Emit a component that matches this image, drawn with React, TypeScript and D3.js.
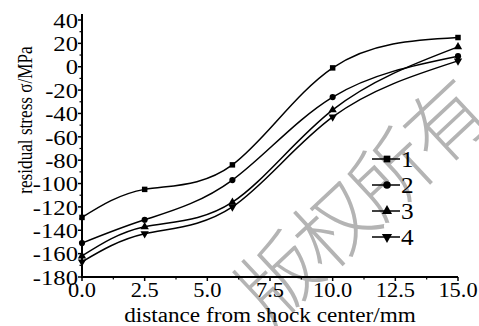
import { useEffect, useRef } from "react"
import * as d3 from "d3"

// distances (mm) where stress was measured
const distances = [0, 2.5, 6, 10, 15]

// residual stress (MPa) per sample
const series1 = [-129, -105, -84, -1, 25]
const series2 = [-151, -131, -97, -26, 9]
const series3 = [-162, -137, -116, -37, 17]
const series4 = [-167, -143, -120, -43, 5]

const seriesNames = ["1", "2", "3", "4"]
const xTicks = [0, 2.5, 5, 7.5, 10, 12.5, 15]
const yTicks = [40, 20, 0, -20, -40, -60, -80, -100, -120, -140, -160, -180]

export default function App() {
  const svgRef = useRef<SVGSVGElement | null>(null)

  useEffect(() => {
    if (!svgRef.current) return
    const svg = d3.select(svgRef.current)
    svg.selectAll("*").remove()

    const font = "'Liberation Serif', 'Times New Roman', serif"

    const x = d3.scaleLinear().domain([0, 15]).range([82, 458])
    const y = d3.scaleLinear().domain([-180, 40]).range([277, 20])

    // watermark behind everything
    svg
      .append("text")
      .attr("transform", "translate(362,202) rotate(-43)")
      .attr("text-anchor", "middle")
      .attr("dy", "0.35em")
      .attr("font-family", "'Noto Sans CJK SC', sans-serif")
      .attr("font-size", 80)
      .attr("font-weight", 300)
      .attr("letter-spacing", -4)
      .attr("fill", "#b4b4b4")
      .text("版权所有")

    // axes lines
    svg
      .append("line")
      .attr("x1", x(0))
      .attr("x2", x(0))
      .attr("y1", 14)
      .attr("y2", y(-180))
      .attr("stroke", "#000")
      .attr("stroke-width", 2)
    svg
      .append("line")
      .attr("x1", x(0) - 1)
      .attr("x2", x(15))
      .attr("y1", y(-180))
      .attr("y2", y(-180))
      .attr("stroke", "#000")
      .attr("stroke-width", 2)

    // y ticks (major + minor)
    yTicks.forEach((t) => {
      svg
        .append("line")
        .attr("x1", x(0) - 4)
        .attr("x2", x(0))
        .attr("y1", y(t))
        .attr("y2", y(t))
        .attr("stroke", "#000")
        .attr("stroke-width", 1.5)
      if (t > -180) {
        svg
          .append("line")
          .attr("x1", x(0) - 2.5)
          .attr("x2", x(0))
          .attr("y1", y(t - 10))
          .attr("y2", y(t - 10))
          .attr("stroke", "#000")
          .attr("stroke-width", 1.2)
      }
      svg
        .append("text")
        .attr("transform", `translate(${x(0) - 4},${y(t)}) scale(1.12,1)`)
        .attr("dy", "0.35em")
        .attr("text-anchor", "end")
        .attr("font-family", font)
        .attr("font-size", 22)
        .text(t)
    })

    // x ticks (major + minor)
    xTicks.forEach((t) => {
      svg
        .append("line")
        .attr("x1", x(t))
        .attr("x2", x(t))
        .attr("y1", y(-180))
        .attr("y2", y(-180) + 4)
        .attr("stroke", "#000")
        .attr("stroke-width", 1.5)
      if (t < 15) {
        svg
          .append("line")
          .attr("x1", x(t + 1.25))
          .attr("x2", x(t + 1.25))
          .attr("y1", y(-180))
          .attr("y2", y(-180) + 2.5)
          .attr("stroke", "#000")
          .attr("stroke-width", 1.2)
      }
      svg
        .append("text")
        .attr("transform", `translate(${x(t)},297) scale(1.12,1)`)
        .attr("text-anchor", "middle")
        .attr("font-family", font)
        .attr("font-size", 20)
        .text(t.toFixed(1))
    })

    // axis titles
    svg
      .append("text")
      .attr("transform", `translate(32,120) rotate(-90) scale(0.78,1)`)
      .attr("text-anchor", "middle")
      .attr("font-family", font)
      .attr("font-size", 22)
      .text("residual stress σ/MPa")
    svg
      .append("text")
      .attr("transform", "translate(270,322) scale(1.16,1)")
      .attr("text-anchor", "middle")
      .attr("font-family", font)
      .attr("font-size", 20)
      .text("distance from shock center/mm")

    const allSeries = [series1, series2, series3, series4]
    const symbols = [d3.symbolSquare, d3.symbolCircle, d3.symbolTriangle, d3.symbolTriangle]
    const symbolRotate = [0, 0, 0, 180]

    const line = d3
      .line<number>()
      .x((_, i) => x(distances[i]))
      .y((d) => y(d))
      .curve(d3.curveNatural)

    allSeries.forEach((vals, si) => {
      svg
        .append("path")
        .attr("d", line(vals))
        .attr("fill", "none")
        .attr("stroke", "#000")
        .attr("stroke-width", 1.5)
      const sym = d3.symbol().type(symbols[si]).size(30)
      vals.forEach((v, i) => {
        svg
          .append("path")
          .attr("d", sym())
          .attr("transform", `translate(${x(distances[i])},${y(v)}) rotate(${symbolRotate[si]})`)
          .attr("fill", "#000")
      })
    })

    // legend
    seriesNames.forEach((name, si) => {
      const ly = 159 + si * 26
      const g = svg.append("g").attr("transform", `translate(0,${ly})`)
      g.append("line")
        .attr("x1", 372)
        .attr("x2", 400)
        .attr("y1", 0)
        .attr("y2", 0)
        .attr("stroke", "#000")
        .attr("stroke-width", 1.5)
      g.append("path")
        .attr("d", d3.symbol().type(symbols[si]).size(45)())
        .attr("transform", `translate(387,0) rotate(${symbolRotate[si]})`)
        .attr("fill", "#000")
      g.append("text")
        .attr("transform", "translate(401,0) scale(1.1,1)")
        .attr("dy", "0.35em")
        .attr("font-family", font)
        .attr("font-size", 23)
        .text(name)
    })
  }, [])

  return (
    <svg
      ref={svgRef}
      width={479}
      height={326}
      style={{ position: "absolute", left: 0, top: 0, background: "#fff" }}
    ></svg>
  )
}
